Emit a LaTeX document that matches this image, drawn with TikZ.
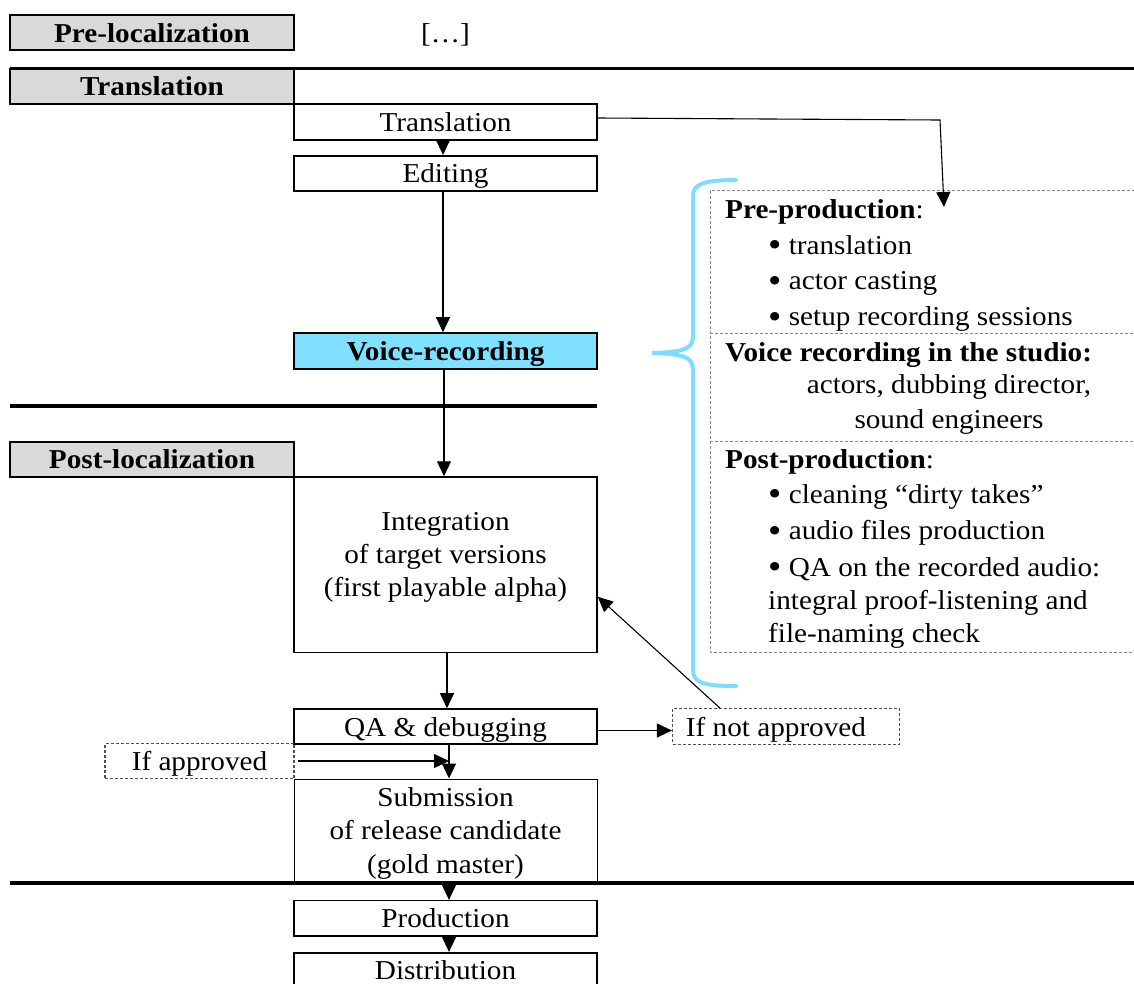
\documentclass[tikz,border=0pt]{standalone}
\usepackage{fontspec}
\usepackage{graphicx}
\setmainfont{Liberation Serif}[FakeStretch=1.07]
\usetikzlibrary{arrows.meta}
\definecolor{hdrgray}{HTML}{D9D9D9}
\definecolor{voiceblue}{HTML}{80E0FF}
\definecolor{bracecol}{HTML}{7FDCFF}
\definecolor{panelgray}{HTML}{8A8A8A}
\definecolor{condgray}{HTML}{505050}
% a stack of text lines; with [t] its baseline is that of the first line
\newcommand\rows[2]{\begin{tabular}[t]{@{}#1@{}}#2\end{tabular}}
% a slightly heavier list bullet
\newcommand\bul{\raisebox{-0.09em}{\scalebox{1.3}{•}}}

\begin{document}
\begin{tikzpicture}[x=1pt, y=-1pt,
  every node/.style={font=\fontsize{27.3}{33.3}\selectfont, inner sep=0pt},
  stepbox/.style={draw, line width=1.6pt, minimum width=303pt, minimum height=35pt,
    text height=19pt, text depth=0pt},
  phase/.style={stepbox, fill=hdrgray, minimum width=284pt,
    font=\fontsize{27.3}{33.3}\selectfont\bfseries},
  cond/.style={draw=condgray, dash pattern=on 3pt off 2pt, line width=1.2pt,
    minimum height=35.5pt, text height=19pt, text depth=0pt},
  arr/.style={-{Triangle[length=15pt,width=14pt]}, line width=1.1pt},
  sepline/.style={line width=3.5pt},
  panel/.style={panelgray, dash pattern=on 3pt off 2pt, line width=1pt},
  brace/.style={bracecol, line width=4pt, line cap=round}
]
\useasboundingbox (0,0) rectangle (1134,983);
\clip (0,0) rectangle (1134,983);

% column guides for the vertical connectors
\coordinate (x443) at (443,0);
\coordinate (x444) at (444,0);
\coordinate (x447) at (447,0);
\coordinate (x449) at (449,0);

% phase headers
\node[phase] (preloc) at (152,32.5) {Pre-localization};
\node[text height=19pt, text depth=0pt] (dots) at (445.5,32.5) {[…]};
\node[phase, minimum height=35.5pt] (transh) at (152,86.25) {Translation};
\node[phase, minimum height=35.3pt] (postloc) at (152,459.4) {Post-localization};

% main flow
\node[stepbox, minimum height=36pt] (trans) at (445.5,122) {Translation};
\node[stepbox] (edit) at (445.5,173.2) {Editing};
\node[stepbox, minimum height=36pt, fill=voiceblue,
      font=\fontsize{27.3}{33.3}\selectfont\bfseries] (voice) at (445.5,351) {Voice-recording};
\node[stepbox, minimum height=175.5pt] (integ) at (445.5,564.8) {};
\node[anchor=base] (integtxt) at (445.5,530)
  {\rows{c}{Integration\\of target versions\\(first playable alpha)}};
\node[stepbox] (qa) at (445.5,726.5) {QA \& debugging};
\node[stepbox, line width=1pt, minimum height=104pt] (subm) at (445.5,831) {};
\node[anchor=base] (submtxt) at (445.5,806.5)
  {\rows{c}{Submission\\of release candidate\\(gold master)}};
\node[stepbox, minimum height=35.3pt] (prod) at (445.5,918.3) {Production};
\node[stepbox] (dist) at (445.5,970.2) {Distribution};

% approval branches
\node[cond, minimum width=189pt] (appr) at (199.5,761) {If approved};
\node[cond, minimum width=227pt] (notappr) at (786,726.5) {If not approved\hspace*{20pt}};

% phase separators
\coordinate (s1a) at (10,68.5);   \coordinate (s1b) at (1134,68.5);
\coordinate (s2a) at (10,406);    \coordinate (s2b) at (597,406);
\coordinate (s3a) at (10,883);    \coordinate (s3b) at (1134,883);
\draw[sepline] (s1a) -- (s1b);
\draw[sepline] (s2a) -- (s2b);
\draw[sepline] (s3a) -- (s3b);

% audio localization panel
\coordinate (pnw) at (710,190.7);
\coordinate (psw) at (710,652);
\coordinate (pne) at (1140,190.7);
\coordinate (pse) at (1140,652);
\coordinate (pd1w) at (710,333.3); \coordinate (pd1e) at (1140,333.3);
\coordinate (pd2w) at (710,441.7); \coordinate (pd2e) at (1140,441.7);
\draw[panel] (pne) -- (pnw) -- (psw) -- (pse);
\draw[panel] (pd1w) -- (pd1e);
\draw[panel] (pd2w) -- (pd2e);

\node[anchor=base west] (prehead) at (725,218.3) {\textbf{Pre-production}:};
\node[anchor=base west] (prelist) at (768,254)
  {\rows{l}{\bul{} translation\\[2.5pt]\bul{} actor casting\\[2.5pt]\bul{} setup recording sessions}};
\node[anchor=base west] (vochead) at (725,361.7) {\textbf{Voice recording in the studio:}};
\node[anchor=base] (voclist) at (949,393)
  {\rows{c}{actors, dubbing director,\\[1.7pt]sound engineers}};
\node[anchor=base west] (posthead) at (725,468) {\textbf{Post-production}:};
\node[anchor=base west] (postlist) at (768,503.5)
  {\rows{l}{\bul{} cleaning ``dirty takes''\\[3pt]\bul{} audio files production\\[3pt]\bul{} QA on the recorded audio:\\integral proof-listening and\\file-naming check}};

% brace grouping the panel
\draw[brace] (736,180) .. controls (704,180) and (693,184) .. (693,196)
  -- (693,336) .. controls (693,349) and (684,352) .. (652,353)
  .. controls (684,354) and (693,357) .. (693,370)
  -- (693,670) .. controls (693,683) and (704,686) .. (736,686);

% connectors
\draw[arr] (trans.south -| x443) -- (edit.north -| x443);
\draw[arr] (edit.south -| x443) -- (voice.north -| x443);
\draw[arr] (voice.south -| x444) -- (integ.north -| x444);
\draw[arr] (integ.south -| x447) -- (qa.north -| x447);
\draw[arr] (qa.south -| x449) -- (subm.north -| x449);
\draw[arr] ([xshift=3pt]appr.east) -- (appr.east -| x449);
\draw[arr] (subm.south -| x449) -- (prod.north -| x449);
\draw[arr] (prod.south -| x449) -- (dist.north -| x449);
\draw[arr] ([yshift=-4pt]qa.east) -- ([yshift=-4pt]notappr.west);
\draw[arr] ([xshift=-66pt]notappr.north) -- ([yshift=-32pt]integ.east);
\coordinate (tbend) at (940,120);
\coordinate (prehit) at (944,207);
\draw[arr] ([yshift=4pt]trans.east) -- (tbend) -- (prehit);
\end{tikzpicture}
\end{document}
